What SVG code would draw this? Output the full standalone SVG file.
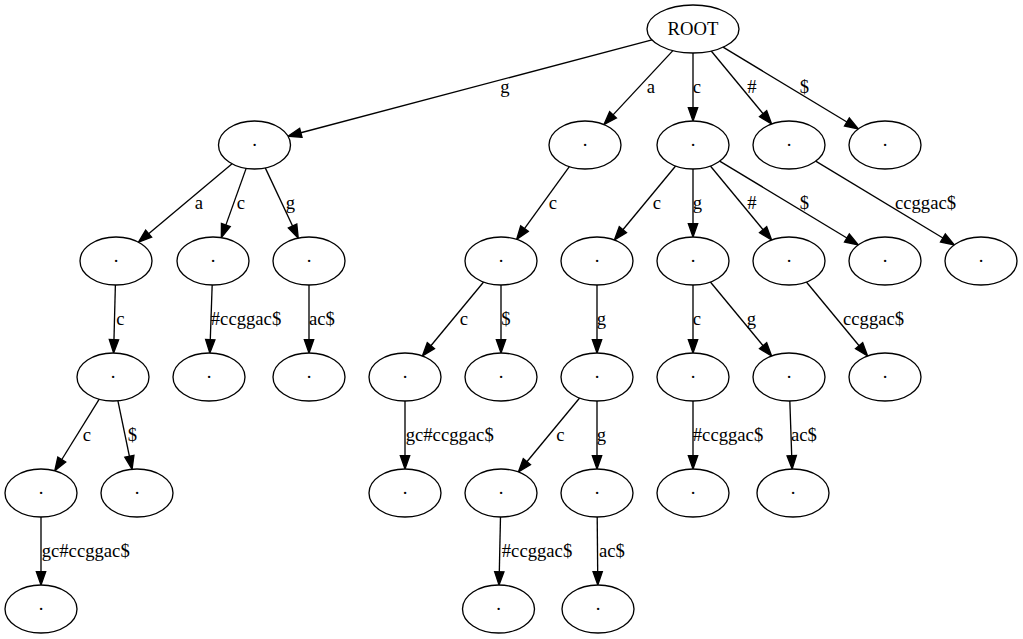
<svg xmlns="http://www.w3.org/2000/svg" width="1023" height="639" viewBox="0 0 1023 639">
<style>
  .n ellipse { fill: #fff; stroke: #000; stroke-width: 1.33; }
  .n text { font-family: "Liberation Serif", "Times New Roman", serif; font-size: 18.67px; text-anchor: middle; fill: #000; }
  .e path { fill: none; stroke: #000; stroke-width: 1.33; marker-end: url(#arr); }
  .l text { font-family: "Liberation Serif", "Times New Roman", serif; font-size: 18.67px; text-anchor: middle; fill: #000; }
</style>
<defs>
  <marker id="arr" markerUnits="userSpaceOnUse" markerWidth="16" markerHeight="12" refX="0" refY="6" orient="auto" overflow="visible">
    <path d="M0,1.33 L13.33,6 L0,10.67 z" fill="#000" stroke="#000" stroke-width="1.33"/>
  </marker>
</defs>
<rect width="1023" height="639" fill="#fff"/>
<g id="connectors" class="e">
  <path d="M651.97,39.85 L300.85,132.74"/>
  <path d="M672.9,50.59 L613.06,114.85"/>
  <path d="M693,53 L693,107.67"/>
  <path d="M711.23,51.03 L763.11,113.71"/>
  <path d="M723.07,47.16 L846.91,121.99"/>
  <path d="M232.08,163.78 L148.64,233.66"/>
  <path d="M246.15,168.35 L225.84,225.1"/>
  <path d="M265.26,167.9 L292.57,226.04"/>
  <path d="M569.35,166.61 L524.47,228.59"/>
  <path d="M675.61,166.02 L622.89,229.71"/>
  <path d="M693,169 L693,223.67"/>
  <path d="M710.39,166.02 L763.11,229.71"/>
  <path d="M719.68,161.12 L846.91,237.99"/>
  <path d="M815.68,161.12 L942.91,237.99"/>
  <path d="M115.38,285 L113.96,339.67"/>
  <path d="M212.17,285 L210.29,339.68"/>
  <path d="M309,285 L309,339.67"/>
  <path d="M483.61,282.02 L430.89,345.71"/>
  <path d="M501,285 L501,339.67"/>
  <path d="M597,285 L597,339.67"/>
  <path d="M693,285 L693,339.67"/>
  <path d="M710.39,282.02 L763.11,345.71"/>
  <path d="M806.39,282.02 L859.11,345.71"/>
  <path d="M99.24,399.18 L61.79,459.49"/>
  <path d="M117.92,400.78 L129.38,456.17"/>
  <path d="M405,401 L405,455.67"/>
  <path d="M579.61,398.02 L526.89,461.71"/>
  <path d="M597,401 L597,455.67"/>
  <path d="M693,401 L693,455.67"/>
  <path d="M789.83,401 L791.71,455.68"/>
  <path d="M41,517 L41,571.67"/>
  <path d="M500.48,517 L499.31,571.67"/>
  <path d="M597.2,517 L597.69,571.67"/>
</g>
<g id="edge-labels" class="l">
  <text x="505" y="92.5">g</text>
  <text x="651" y="92.5">a</text>
  <text x="697" y="92.5">c</text>
  <text x="752" y="92.5">#</text>
  <text x="804.5" y="92.5">$</text>
  <text x="199" y="208.5">a</text>
  <text x="241" y="208.5">c</text>
  <text x="290.5" y="208.5">g</text>
  <text x="553" y="208.5">c</text>
  <text x="657" y="208.5">c</text>
  <text x="697.5" y="208.5">g</text>
  <text x="752" y="208.5">#</text>
  <text x="804.5" y="208.5">$</text>
  <text x="925.5" y="208.5">ccggac$</text>
  <text x="120.5" y="324.5">c</text>
  <text x="246" y="324.5">#ccggac$</text>
  <text x="322" y="324.5">ac$</text>
  <text x="464" y="324.5">c</text>
  <text x="506" y="324.5">$</text>
  <text x="601.5" y="324.5">g</text>
  <text x="697" y="324.5">c</text>
  <text x="751.5" y="324.5">g</text>
  <text x="873.6" y="324.5">ccggac$</text>
  <text x="87" y="440.5">c</text>
  <text x="132.5" y="440.5">$</text>
  <text x="449.7" y="440.5">gc#ccggac$</text>
  <text x="560.5" y="440.5">c</text>
  <text x="601.5" y="440.5">g</text>
  <text x="728" y="440.5">#ccggac$</text>
  <text x="804" y="440.5">ac$</text>
  <text x="85.7" y="556.5">gc#ccggac$</text>
  <text x="537" y="556.5">#ccggac$</text>
  <text x="612" y="556.5">ac$</text>
</g>
<g id="root" class="n"><ellipse cx="693" cy="29" rx="46" ry="24"/><text x="693" y="34.5">ROOT</text></g>
<g id="n_g" class="n"><ellipse cx="254.5" cy="145" rx="36" ry="24"/><text x="254.5" y="150.5">·</text></g>
<g id="n_a" class="n"><ellipse cx="585" cy="145" rx="36" ry="24"/><text x="585" y="150.5">·</text></g>
<g id="n_c" class="n"><ellipse cx="693" cy="145" rx="36" ry="24"/><text x="693" y="150.5">·</text></g>
<g id="n_hash" class="n"><ellipse cx="789" cy="145" rx="36" ry="24"/><text x="789" y="150.5">·</text></g>
<g id="n_dollar" class="n"><ellipse cx="885" cy="145" rx="36" ry="24"/><text x="885" y="150.5">·</text></g>
<g id="n_ga" class="n"><ellipse cx="116" cy="261" rx="36" ry="24"/><text x="116" y="266.5">·</text></g>
<g id="n_gc" class="n"><ellipse cx="213" cy="261" rx="36" ry="24"/><text x="213" y="266.5">·</text></g>
<g id="n_gg" class="n"><ellipse cx="309" cy="261" rx="36" ry="24"/><text x="309" y="266.5">·</text></g>
<g id="n_ac" class="n"><ellipse cx="501" cy="261" rx="36" ry="24"/><text x="501" y="266.5">·</text></g>
<g id="n_cc" class="n"><ellipse cx="597" cy="261" rx="36" ry="24"/><text x="597" y="266.5">·</text></g>
<g id="n_cg" class="n"><ellipse cx="693" cy="261" rx="36" ry="24"/><text x="693" y="266.5">·</text></g>
<g id="n_chash" class="n"><ellipse cx="789" cy="261" rx="36" ry="24"/><text x="789" y="266.5">·</text></g>
<g id="n_cdollar" class="n"><ellipse cx="885" cy="261" rx="36" ry="24"/><text x="885" y="266.5">·</text></g>
<g id="n_hashx" class="n"><ellipse cx="981" cy="261" rx="36" ry="24"/><text x="981" y="266.5">·</text></g>
<g id="n_gac" class="n"><ellipse cx="113" cy="377" rx="36" ry="24"/><text x="113" y="382.5">·</text></g>
<g id="n_gcx" class="n"><ellipse cx="209" cy="377" rx="36" ry="24"/><text x="209" y="382.5">·</text></g>
<g id="n_ggx" class="n"><ellipse cx="309" cy="377" rx="36" ry="24"/><text x="309" y="382.5">·</text></g>
<g id="n_acc" class="n"><ellipse cx="405" cy="377" rx="36" ry="24"/><text x="405" y="382.5">·</text></g>
<g id="n_acdollar" class="n"><ellipse cx="501" cy="377" rx="36" ry="24"/><text x="501" y="382.5">·</text></g>
<g id="n_ccg" class="n"><ellipse cx="597" cy="377" rx="36" ry="24"/><text x="597" y="382.5">·</text></g>
<g id="n_cgc" class="n"><ellipse cx="693" cy="377" rx="36" ry="24"/><text x="693" y="382.5">·</text></g>
<g id="n_cgg" class="n"><ellipse cx="789" cy="377" rx="36" ry="24"/><text x="789" y="382.5">·</text></g>
<g id="n_chashx" class="n"><ellipse cx="885" cy="377" rx="36" ry="24"/><text x="885" y="382.5">·</text></g>
<g id="n_gacc" class="n"><ellipse cx="41" cy="493" rx="36" ry="24"/><text x="41" y="498.5">·</text></g>
<g id="n_gacdollar" class="n"><ellipse cx="137" cy="493" rx="36" ry="24"/><text x="137" y="498.5">·</text></g>
<g id="n_accx" class="n"><ellipse cx="405" cy="493" rx="36" ry="24"/><text x="405" y="498.5">·</text></g>
<g id="n_ccgc" class="n"><ellipse cx="501" cy="493" rx="36" ry="24"/><text x="501" y="498.5">·</text></g>
<g id="n_ccgg" class="n"><ellipse cx="597" cy="493" rx="36" ry="24"/><text x="597" y="498.5">·</text></g>
<g id="n_cgcx" class="n"><ellipse cx="693" cy="493" rx="36" ry="24"/><text x="693" y="498.5">·</text></g>
<g id="n_cggx" class="n"><ellipse cx="793" cy="493" rx="36" ry="24"/><text x="793" y="498.5">·</text></g>
<g id="n_gaccx" class="n"><ellipse cx="41" cy="609" rx="36" ry="24"/><text x="41" y="614.5">·</text></g>
<g id="n_ccgcx" class="n"><ellipse cx="498.5" cy="609" rx="36" ry="24"/><text x="498.5" y="614.5">·</text></g>
<g id="n_ccggx" class="n"><ellipse cx="598" cy="609" rx="36" ry="24"/><text x="598" y="614.5">·</text></g>
</svg>
